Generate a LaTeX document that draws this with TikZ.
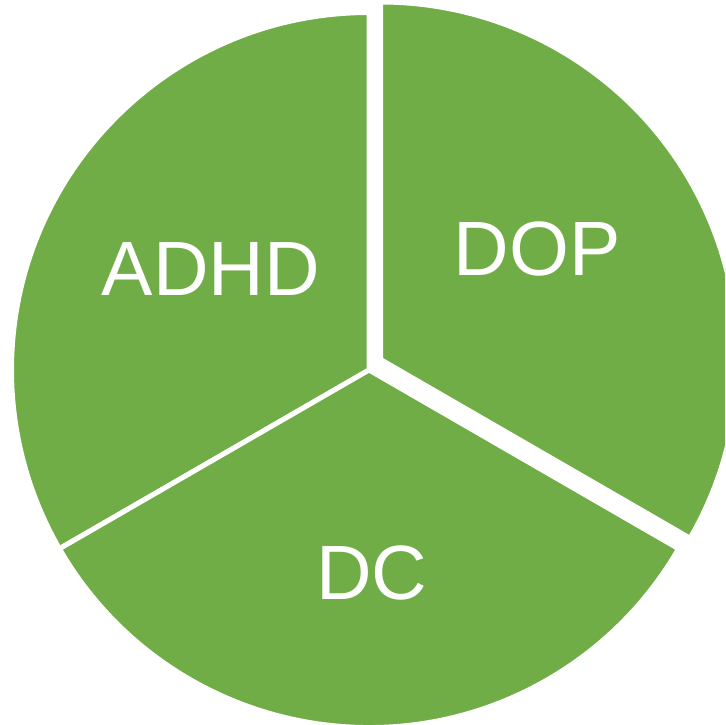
\documentclass[tikz,border=0pt]{standalone}
\usepackage{fontspec}
\setmainfont{Liberation Sans}
\definecolor{piegreen}{HTML}{70AD47}
\begin{document}
\begin{tikzpicture}[x=1pt,y=1pt,
  slice/.style={fill=piegreen,draw=white,line width=5pt,line join=miter},
  lbl/.style={text=white,font=\fontsize{77}{80}\selectfont,anchor=base,inner sep=0pt}]
\useasboundingbox (0,0) rectangle (725,725);
\clip (0,0) rectangle (725,725);
\coordinate (c) at (369,355);
\coordinate (d) at (380.5,365.5);
\filldraw[slice] (c) -- ++(90:357.5) arc[start angle=90,end angle=210,radius=357.5] -- cycle;
\filldraw[slice] (c) -- ++(210:357.5) arc[start angle=210,end angle=330,radius=357.5] -- cycle;
\filldraw[slice] (d) -- ++(-30:357.5) arc[start angle=-30,end angle=90,radius=357.5] -- cycle;
\node[lbl] (adhd) at (211,429) {ADHD};
\node[lbl] (dop) at (537,449) {DOP};
\node[lbl] (dc) at (372,125) {DC};
\end{tikzpicture}
\end{document}
